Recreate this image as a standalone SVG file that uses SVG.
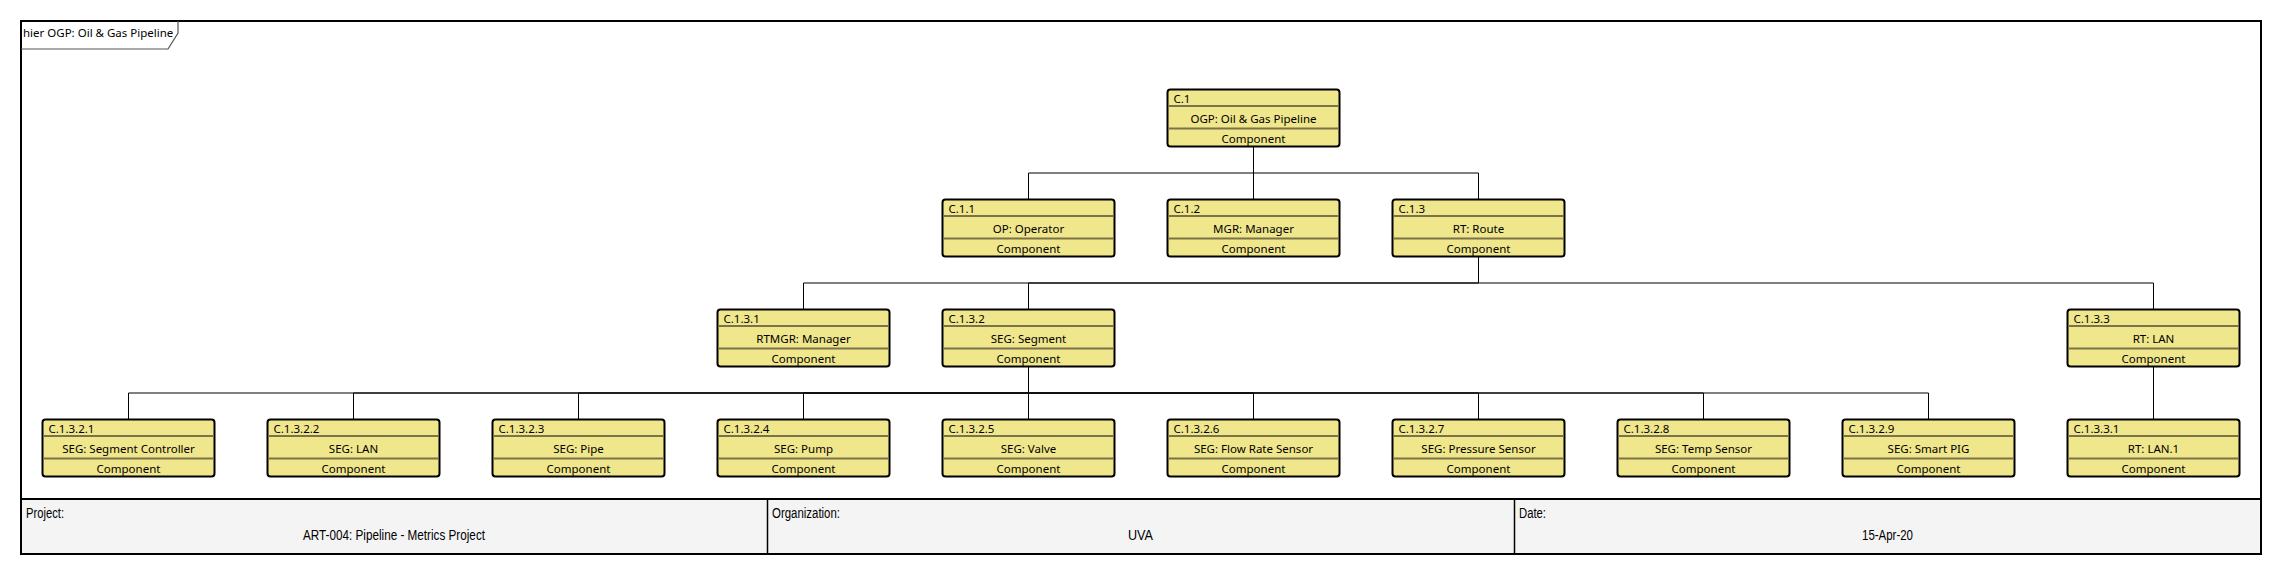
<svg xmlns="http://www.w3.org/2000/svg" width="2282" height="575" viewBox="0 0 2282 575">
<style>
.bg{fill:#ffffff}
.frame{fill:none;stroke:#000;stroke-width:2}
.tab{fill:none;stroke:#555;stroke-width:1.2}
.tabt{font-family:"Noto Sans","Open Sans",sans-serif;font-size:11.5px;fill:#000}
.box{fill:#f0e68c;stroke:#000;stroke-width:2}
.div{stroke:#7a7248;stroke-width:2}
.id{font-family:"Noto Sans","Open Sans",sans-serif;font-size:11.5px;fill:#000}
.nm{font-family:"Noto Sans","Open Sans",sans-serif;font-size:11.5px;fill:#000;text-anchor:middle}
.conn path{fill:none;stroke:#000;stroke-width:1}
.tb{fill:#f4f4f4;stroke:#000;stroke-width:2}
.tbd{stroke:#000;stroke-width:1.5}
.tbt{font-family:"Liberation Sans Narrow","Liberation Sans",sans-serif;font-size:14px;fill:#000}
.tbv{font-family:"Liberation Sans Narrow","Liberation Sans",sans-serif;font-size:14px;fill:#000;text-anchor:middle}
</style>
<defs>
<g id="nb">
<rect class="box" x="0" y="0" width="172" height="57" rx="3" ry="3"/>
<line class="div" x1="1" y1="16.5" x2="171" y2="16.5"/>
<line class="div" x1="1" y1="39" x2="171" y2="39"/>
</g>
</defs>
<rect class="bg" x="0" y="0" width="2282" height="575"/>
<g id="frame">
<rect class="frame" x="21" y="21" width="2240" height="533"/>
<path class="tab" d="M21,49 H168 L178,33 V21"/>
<text class="tabt" x="23" y="36.5">hier OGP: Oil &amp; Gas Pipeline</text>
</g>
<g id="connectors" class="conn">
<path d="M1253.5,146.5 V173 H1028.5 V199.5"/>
<path d="M1253.5,146.5 V199.5"/>
<path d="M1253.5,146.5 V173 H1478.5 V199.5"/>
<path d="M1478.5,256.5 V283 H803.5 V309.5"/>
<path d="M1478.5,256.5 V283 H1028.5 V309.5"/>
<path d="M1478.5,256.5 V283 H2153.5 V309.5"/>
<path d="M1028.5,366.5 V393 H128.5 V419.5"/>
<path d="M1028.5,366.5 V393 H353.5 V419.5"/>
<path d="M1028.5,366.5 V393 H578.5 V419.5"/>
<path d="M1028.5,366.5 V393 H803.5 V419.5"/>
<path d="M1028.5,366.5 V419.5"/>
<path d="M1028.5,366.5 V393 H1253.5 V419.5"/>
<path d="M1028.5,366.5 V393 H1478.5 V419.5"/>
<path d="M1028.5,366.5 V393 H1703.5 V419.5"/>
<path d="M1028.5,366.5 V393 H1928.5 V419.5"/>
<path d="M2153.5,366.5 V419.5"/>
</g>
<g id="C.1" transform="translate(1167.5,89.5)"><use href="#nb"/><text class="id" x="6" y="13.5">C.1</text><text class="nm" x="86" y="33.5">OGP: Oil &amp; Gas Pipeline</text><text class="nm" x="86" y="53">Component</text></g>
<g id="C.1.1" transform="translate(942.5,199.5)"><use href="#nb"/><text class="id" x="6" y="13.5">C.1.1</text><text class="nm" x="86" y="33.5">OP: Operator</text><text class="nm" x="86" y="53">Component</text></g>
<g id="C.1.2" transform="translate(1167.5,199.5)"><use href="#nb"/><text class="id" x="6" y="13.5">C.1.2</text><text class="nm" x="86" y="33.5">MGR: Manager</text><text class="nm" x="86" y="53">Component</text></g>
<g id="C.1.3" transform="translate(1392.5,199.5)"><use href="#nb"/><text class="id" x="6" y="13.5">C.1.3</text><text class="nm" x="86" y="33.5">RT: Route</text><text class="nm" x="86" y="53">Component</text></g>
<g id="C.1.3.1" transform="translate(717.5,309.5)"><use href="#nb"/><text class="id" x="6" y="13.5">C.1.3.1</text><text class="nm" x="86" y="33.5">RTMGR: Manager</text><text class="nm" x="86" y="53">Component</text></g>
<g id="C.1.3.2" transform="translate(942.5,309.5)"><use href="#nb"/><text class="id" x="6" y="13.5">C.1.3.2</text><text class="nm" x="86" y="33.5">SEG: Segment</text><text class="nm" x="86" y="53">Component</text></g>
<g id="C.1.3.3" transform="translate(2067.5,309.5)"><use href="#nb"/><text class="id" x="6" y="13.5">C.1.3.3</text><text class="nm" x="86" y="33.5">RT: LAN</text><text class="nm" x="86" y="53">Component</text></g>
<g id="C.1.3.2.1" transform="translate(42.5,419.5)"><use href="#nb"/><text class="id" x="6" y="13.5">C.1.3.2.1</text><text class="nm" x="86" y="33.5">SEG: Segment Controller</text><text class="nm" x="86" y="53">Component</text></g>
<g id="C.1.3.2.2" transform="translate(267.5,419.5)"><use href="#nb"/><text class="id" x="6" y="13.5">C.1.3.2.2</text><text class="nm" x="86" y="33.5">SEG: LAN</text><text class="nm" x="86" y="53">Component</text></g>
<g id="C.1.3.2.3" transform="translate(492.5,419.5)"><use href="#nb"/><text class="id" x="6" y="13.5">C.1.3.2.3</text><text class="nm" x="86" y="33.5">SEG: Pipe</text><text class="nm" x="86" y="53">Component</text></g>
<g id="C.1.3.2.4" transform="translate(717.5,419.5)"><use href="#nb"/><text class="id" x="6" y="13.5">C.1.3.2.4</text><text class="nm" x="86" y="33.5">SEG: Pump</text><text class="nm" x="86" y="53">Component</text></g>
<g id="C.1.3.2.5" transform="translate(942.5,419.5)"><use href="#nb"/><text class="id" x="6" y="13.5">C.1.3.2.5</text><text class="nm" x="86" y="33.5">SEG: Valve</text><text class="nm" x="86" y="53">Component</text></g>
<g id="C.1.3.2.6" transform="translate(1167.5,419.5)"><use href="#nb"/><text class="id" x="6" y="13.5">C.1.3.2.6</text><text class="nm" x="86" y="33.5">SEG: Flow Rate Sensor</text><text class="nm" x="86" y="53">Component</text></g>
<g id="C.1.3.2.7" transform="translate(1392.5,419.5)"><use href="#nb"/><text class="id" x="6" y="13.5">C.1.3.2.7</text><text class="nm" x="86" y="33.5">SEG: Pressure Sensor</text><text class="nm" x="86" y="53">Component</text></g>
<g id="C.1.3.2.8" transform="translate(1617.5,419.5)"><use href="#nb"/><text class="id" x="6" y="13.5">C.1.3.2.8</text><text class="nm" x="86" y="33.5">SEG: Temp Sensor</text><text class="nm" x="86" y="53">Component</text></g>
<g id="C.1.3.2.9" transform="translate(1842.5,419.5)"><use href="#nb"/><text class="id" x="6" y="13.5">C.1.3.2.9</text><text class="nm" x="86" y="33.5">SEG: Smart PIG</text><text class="nm" x="86" y="53">Component</text></g>
<g id="C.1.3.3.1" transform="translate(2067.5,419.5)"><use href="#nb"/><text class="id" x="6" y="13.5">C.1.3.3.1</text><text class="nm" x="86" y="33.5">RT: LAN.1</text><text class="nm" x="86" y="53">Component</text></g>
<g id="titleblock">
<rect class="tb" x="21" y="499" width="2240" height="55"/>
<line class="tbd" x1="767.5" y1="499" x2="767.5" y2="554"/>
<line class="tbd" x1="1514.5" y1="499" x2="1514.5" y2="554"/>
<text class="tbt" x="26" y="518" textLength="38" lengthAdjust="spacingAndGlyphs">Project:</text>
<text class="tbv" x="394" y="540" textLength="182" lengthAdjust="spacingAndGlyphs">ART-004: Pipeline - Metrics Project</text>
<text class="tbt" x="772" y="518" textLength="68" lengthAdjust="spacingAndGlyphs">Organization:</text>
<text class="tbv" x="1140.5" y="540" textLength="25" lengthAdjust="spacingAndGlyphs">UVA</text>
<text class="tbt" x="1519" y="518" textLength="27" lengthAdjust="spacingAndGlyphs">Date:</text>
<text class="tbv" x="1887.5" y="540" textLength="51" lengthAdjust="spacingAndGlyphs">15-Apr-20</text>
</g>
</svg>
